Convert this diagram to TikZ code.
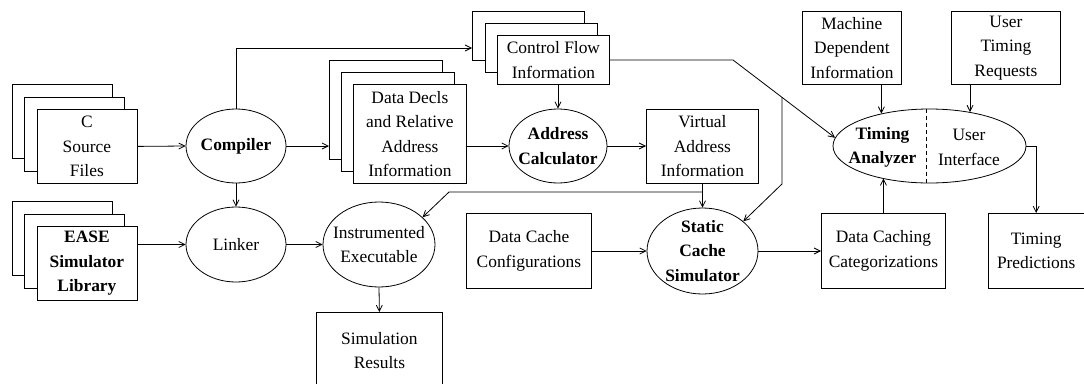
\documentclass[tikz,border=0pt]{standalone}
\usepackage{fontspec}
\setmainfont{Liberation Serif}
\usetikzlibrary{shapes.geometric,arrows.meta,calc}

\tikzset{
  box/.style={draw, fill=white, inner sep=0pt, align=center, anchor=north west, line width=0.8pt},
  ell/.style={draw, ellipse, fill=white, inner sep=0pt, line width=0.8pt},
  txt/.style={align=center, inner sep=0pt},
  arr/.style={-{Straight Barb[length=6pt,width=6pt]}, line width=0.8pt},
  ln/.style={line width=0.8pt}
}

\begin{document}
\begin{tikzpicture}[x=1pt, y=-1pt, font=\fontsize{17.4}{24.5}\selectfont]
\useasboundingbox (0,0) rectangle (1084,383);
\clip (0,0) rectangle (1084,383);

% source file stack
\node[box, minimum width=100pt, minimum height=74pt] (srcA) at (11.5,84) {};
\node[box, minimum width=100pt, minimum height=74pt] (srcB) at (24,96.5) {};
\node[box, minimum width=100pt, minimum height=74pt] (srcC) at (36.5,109) {C\\Source\\Files};

% simulator library stack
\node[box, minimum width=100pt, minimum height=74pt] (easeA) at (11.5,201) {};
\node[box, minimum width=100pt, minimum height=74pt] (easeB) at (24,213.5) {};
\node[box, minimum width=100pt, minimum height=74pt, font=\fontsize{17.4}{24.5}\selectfont\bfseries] (easeC) at (36.5,226) {EASE\\Simulator\\Library};

% data declarations stack
\node[box, minimum width=113pt, minimum height=99pt] (ddA) at (329,60) {};
\node[box, minimum width=113pt, minimum height=99pt] (ddB) at (341,72) {};
\node[box, minimum width=113pt, minimum height=99pt] (ddC) at (353,84) {Data Decls\\and Relative\\Address\\Information};

% control flow stack
\node[box, minimum width=112pt, minimum height=49pt] (cfA) at (472,11) {};
\node[box, minimum width=112pt, minimum height=49pt] (cfB) at (484.5,23) {};
\node[box, minimum width=112pt, minimum height=49pt] (cfC) at (497,35) {Control Flow\\Information};

% single boxes
\node[box, minimum width=112pt, minimum height=74pt] (virt) at (646,109) {Virtual\\Address\\Information};
\node[box, minimum width=99pt, minimum height=73pt] (md) at (802,11) {Machine\\Dependent\\Information};
\node[box, minimum width=109pt, minimum height=73pt] (ut) at (951,11) {User\\Timing\\Requests};
\node[box, minimum width=125pt, minimum height=75pt] (dcc) at (466,213) {Data Cache\\Configurations};
\node[box, minimum width=124pt, minimum height=75pt] (dcat) at (821,213) {Data Caching\\Categorizations};
\node[box, minimum width=95.5pt, minimum height=75pt] (tp) at (988,213) {Timing\\Predictions};
\node[box, minimum width=126pt, minimum height=76pt] (sim) at (316,312) {Simulation\\Results};

% processes
\node[ell, minimum width=100pt, minimum height=74pt] (comp) at (236,146) {};
\node[txt, font=\fontsize{17.4}{24.5}\selectfont\bfseries] at (comp) {Compiler};
\node[ell, minimum width=98pt, minimum height=74pt] (addr) at (558,146) {};
\node[txt, font=\fontsize{17.4}{24.5}\selectfont\bfseries] at (addr) {Address\\Calculator};
\node[ell, minimum width=100pt, minimum height=75pt] (link) at (236,244.5) {};
\node[txt] at (link) {Linker};
\node[ell, minimum width=112pt, minimum height=85pt] (ie) at (379,244.5) {};
\node[txt] at (ie) {Instrumented\\Executable};
\node[ell, minimum width=111pt, minimum height=86pt] (scs) at (702.5,251) {};
\node[txt, font=\fontsize{17.4}{24.5}\selectfont\bfseries] at (scs) {Static\\Cache\\Simulator};
\node[ell, minimum width=193pt, minimum height=74pt] (ta) at (929.5,146) {};
\draw[ln, dashed, dash pattern=on 4pt off 3pt] ([xshift=-3.5pt]ta.north) -- ([xshift=-3.5pt]ta.south);
\node[txt, font=\fontsize{17.4}{24.5}\selectfont\bfseries] at (882.5,147.5) {Timing\\Analyzer};
\node[txt] at (969,147.5) {User\\Interface};

% bend points
\coordinate (cfrow) at (0,48);
\coordinate (vrow) at (0,192);
\coordinate (vbend) at (449,192);
\coordinate (cfbend) at (733,60);
\coordinate (cfsplit) at ($(cfbend)!0.48!(ta.175)$);
\coordinate (scsrow) at (0,184);

% connectors
\draw[arr] (srcC.east) -- (comp.west);
\draw[arr] (comp.east) -- (ddA.west |- comp.east);
\draw[arr] (comp.north) -- (comp.north |- cfrow) -- (cfA.west |- cfrow);
\draw[arr] (addr.north |- cfC.south) -- (addr.north);
\draw[arr] (ddC.east |- addr.west) -- (addr.west);
\draw[arr] (addr.east) -- (virt.west |- addr.east);
\draw[arr] (virt.south) -- (scs.north);
\draw[arr] (virt.south |- vrow) -- (vbend) -- (ie.32);
\draw[arr] (cfC.east) -- (cfbend) -- (ta.175);
\draw[arr] (cfsplit) -- (cfsplit |- scsrow) -- (scs.36);
\draw[arr] (dcc.east |- scs.west) -- (scs.west);
\draw[arr] (scs.east) -- (dcat.west |- scs.east);
\draw[arr] (dcat.north) -- (dcat.north |- ta.214);
\draw[arr] (ta.146 |- md.south) -- (ta.146);
\draw[arr] (ta.40.6 |- ut.south) -- (ta.40.6);
\draw[arr] (ta.east) -| (tp.north);
\draw[arr] (comp.south) -- (link.north);
\draw[arr] (easeC.east |- link.west) -- (link.west);
\draw[arr] (link.east) -- (ie.west);
\draw[arr] (ie.south) -- (sim.north);
\end{tikzpicture}
\end{document}
